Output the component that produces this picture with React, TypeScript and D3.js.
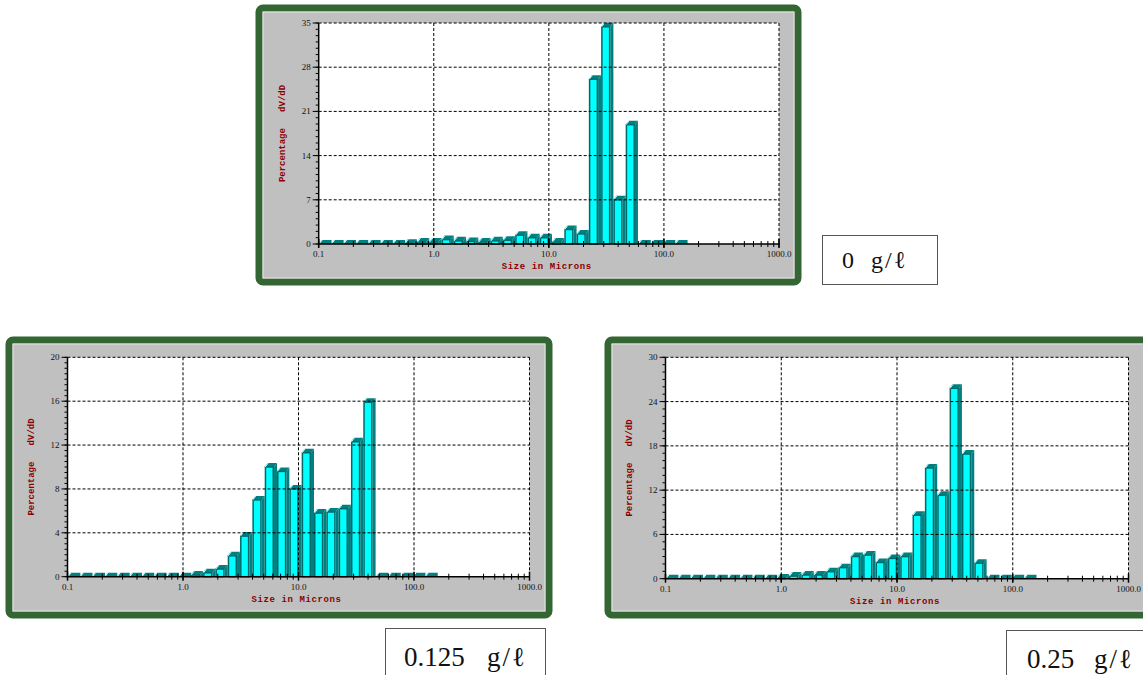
import * as d3 from "d3";

// particle size bins (µm), lower edges + last upper edge
const BIN_EDGES = [
  0.1, 0.128, 0.163, 0.209, 0.267, 0.342, 0.437, 0.558, 0.714, 0.913,
  1.167, 1.492, 1.908, 2.439, 3.118, 3.987, 5.097, 6.517, 8.332, 10.65,
  13.62, 17.41, 22.26, 28.46, 36.38, 46.51, 59.47, 76.03, 97.19, 124.3, 158.9,
];

// % dV/dD per bin, one array per concentration
const CONC_0 = [
  0, 0, 0, 0, 0, 0, 0, 0.1, 0.3, 0.3,
  0.7, 0.5, 0.4, 0.3, 0.5, 0.6, 1.4, 1.0, 1.0, 0.3,
  2.3, 1.6, 26.1, 34.4, 7.0, 18.9, 0, 0, 0, 0,
];
const CONC_125 = [
  0, 0, 0, 0, 0, 0, 0, 0, 0, 0,
  0.15, 0.36, 0.7, 1.9, 3.7, 7.0, 10.0, 9.6, 8.0, 11.3,
  5.8, 5.9, 6.2, 12.3, 15.9, 0, 0, 0, 0, 0,
];
const CONC_25 = [
  0, 0, 0, 0, 0, 0, 0, 0, 0, 0.1,
  0.35, 0.5, 0.5, 0.95, 1.5, 3.0, 3.2, 2.2, 2.75, 3.0,
  8.6, 15.0, 11.3, 25.8, 16.9, 2.1, 0, 0, 0, 0,
];

const X_DECADES = [0.1, 1, 10, 100, 1000];
const X_LABELS = ["0.1", "1.0", "10.0", "100.0", "1000.0"];
const Y_TICKS_0 = [0, 7, 14, 21, 28, 35];
const Y_TICKS_125 = [0, 4, 8, 12, 16, 20];
const Y_TICKS_25 = [0, 6, 12, 18, 24, 30];
const CAPTIONS = [
  { num: "0", unit: "g/ℓ" },
  { num: "0.125", unit: "g/ℓ" },
  { num: "0.25", unit: "g/ℓ" },
];

const DX = 3; // 3d depth
const DY = 4;
const CYAN = "#00ffff";
const TEAL = "#008080";
const RED = "#8b0000";
const GREEN = "#336633";

type Box = { l: number; r: number; t: number; b: number };

function Chart({ panel, plot, values, yTicks }: {
  panel: { x: number; y: number; w: number; h: number };
  plot: Box;
  values: number[];
  yTicks: number[];
}) {
  const yMax = yTicks[yTicks.length - 1];
  const x = d3.scaleLog().domain([0.1, 1000]).range([plot.l, plot.r]);
  const y = d3.scaleLinear().domain([0, yMax]).range([plot.b, plot.t]);
  const base = y(0);
  const minorX = x.ticks();
  const minorY = y.ticks(40);

  const bars = values.map((v, i) => {
    const x0 = x(BIN_EDGES[i]);
    const xe = x(BIN_EDGES[i + 1]);
    const x1 = xe - DX;
    const top = y(v);
    if (v <= 0.05) {
      // flat slab for empty bins
      return (
        <g key={i}>
          <polygon
            points={`${x0},${base} ${x0 + DX},${base - DY} ${xe + 0.5},${base - DY} ${xe + 0.5},${base}`}
            fill={TEAL}
          />
          <line x1={x0 + 0.5} y1={base} x2={x0 + DX + 0.5} y2={base - DY} stroke="#d8ffff" strokeWidth={1} />
        </g>
      );
    }
    return (
      <g key={i}>
        <polygon
          points={`${x1},${top} ${xe},${top - DY} ${xe},${base} ${x1},${base}`}
          fill={TEAL}
        />
        <polygon
          points={`${x0},${top} ${x0 + DX},${top - DY} ${xe},${top - DY} ${x1},${top}`}
          fill={TEAL}
        />
        <rect x={x0 + 0.75} y={top} width={x1 - x0 - 1.5} height={base - top}
          fill={CYAN} stroke="#006a6a" strokeWidth={1.5} />
        <line x1={x0 + 0.5} y1={top} x2={x0 + DX + 0.5} y2={top - DY} stroke="#b8ffff" strokeWidth={1} />
      </g>
    );
  });

  const midY = (plot.t + plot.b) / 2;

  return (
    <g>
      <rect x={panel.x + 3} y={panel.y + 3} width={panel.w - 6} height={panel.h - 6}
        rx={4} fill="#c0c0c0" stroke={GREEN} strokeWidth={7} />
      <rect x={panel.x + 7} y={panel.y + 7} width={panel.w - 14} height={panel.h - 14}
        fill="none" stroke="#e4e4e4" strokeWidth={1} />
      <rect x={plot.l} y={plot.t} width={plot.r - plot.l} height={plot.b - plot.t} fill="#fff" />
      {bars}
      {/* grid */}
      {yTicks.slice(1).map((t) => (
        <line key={"gy" + t} x1={plot.l} x2={plot.r} y1={y(t)} y2={y(t)}
          stroke="#000" strokeDasharray="3,2" />
      ))}
      {X_DECADES.slice(1).map((d) => (
        <line key={"gx" + d} x1={x(d)} x2={x(d)} y1={plot.t} y2={base}
          stroke="#000" strokeDasharray="3,2" />
      ))}
      {/* axes */}
      <line x1={plot.l} x2={plot.l} y1={plot.t} y2={base} stroke="#000" strokeWidth={1.5} />
      <line x1={plot.l} x2={plot.r} y1={base} y2={base} stroke="#000" strokeWidth={1.5} />
      {minorY.map((t) => (
        <line key={"my" + t} x1={plot.l - 3} x2={plot.l} y1={y(t)} y2={y(t)} stroke="#000" />
      ))}
      {yTicks.map((t) => (
        <g key={"ty" + t}>
          <line x1={plot.l - 6} x2={plot.l} y1={y(t)} y2={y(t)} stroke="#000" />
          <text x={plot.l - 8} y={y(t) + 3} textAnchor="end" fontSize={9}
            fontFamily="Liberation Serif, serif" fill="#111">{t}</text>
        </g>
      ))}
      {minorX.map((t, i) => (
        <line key={"mx" + i} x1={x(t)} x2={x(t)} y1={base - 3} y2={base + 3} stroke="#000" />
      ))}
      {X_DECADES.map((d, i) => (
        <g key={"tx" + d}>
          <line x1={x(d)} x2={x(d)} y1={base - 5} y2={base + 4} stroke="#000" strokeWidth={1.5} />
          <text x={x(d)} y={base + 13} textAnchor="middle" fontSize={9}
            fontFamily="Liberation Serif, serif" fill="#111">{X_LABELS[i]}</text>
        </g>
      ))}
      <text x={(plot.l + plot.r) / 2 - 2} y={base + 25} textAnchor="middle" fontSize={9}
        fontWeight="bold" fontFamily="Liberation Mono, monospace" fill={RED}
        letterSpacing={0.6} style={{ whiteSpace: "pre" }}>Size in Microns</text>
      <text transform={`translate(${plot.l - 34},${midY}) rotate(-90)`} textAnchor="middle"
        fontSize={9} fontWeight="bold" fontFamily="Liberation Mono, monospace" fill={RED}
        style={{ whiteSpace: "pre" }}>Percentage   dV/dD</text>
    </g>
  );
}

function Caption({ x, y, w, h, tx, ty, size, gap, c }: any) {
  return (
    <g>
      <rect x={x} y={y} width={w} height={h} fill="#fff" stroke="#555" strokeWidth={1} />
      <text x={tx} y={ty} fontSize={size} fontFamily="Liberation Serif, DejaVu Serif, serif" fill="#111">
        {c.num}
      </text>
      <text x={tx + gap} y={ty} fontSize={size} fontFamily="Liberation Serif, DejaVu Serif, serif"
        fill="#111" letterSpacing={2}>
        {c.unit}
      </text>
    </g>
  );
}

export default function App() {
  return (
    <svg width={1143} height={675} style={{ position: "absolute", left: 0, top: 0, background: "#fff" }}>
      <Chart panel={{ x: 256, y: 5, w: 545, h: 280 }}
        plot={{ l: 318.7, r: 779, t: 23, b: 244 }} values={CONC_0} yTicks={Y_TICKS_0} />
      <Chart panel={{ x: 6, y: 337, w: 546, h: 281 }}
        plot={{ l: 67.5, r: 529.5, t: 357.3, b: 576.7 }} values={CONC_125} yTicks={Y_TICKS_125} />
      <Chart panel={{ x: 605, y: 337, w: 546, h: 281 }}
        plot={{ l: 665.5, r: 1128.5, t: 357.3, b: 578.7 }} values={CONC_25} yTicks={Y_TICKS_25} />
      <Caption x={822.5} y={235.5} w={115} h={49} tx={842} ty={268} size={24} gap={29} c={CAPTIONS[0]} />
      <Caption x={385.5} y={628.5} w={160} h={60} tx={404} ty={666} size={27} gap={83} c={CAPTIONS[1]} />
      <Caption x={1006.5} y={630.5} w={150} h={60} tx={1027} ty={668} size={27} gap={67} c={CAPTIONS[2]} />
    </svg>
  );
}
